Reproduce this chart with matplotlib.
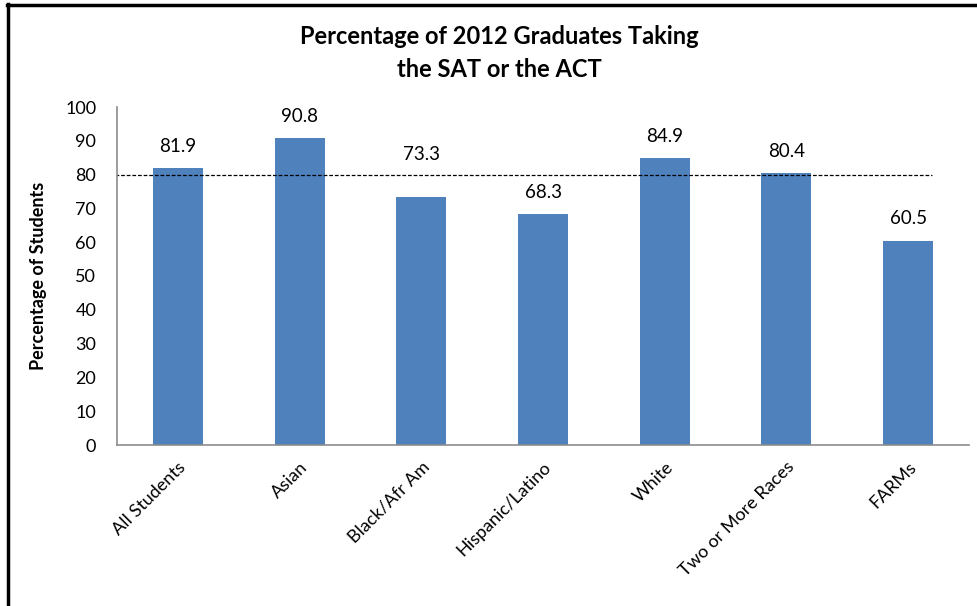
import matplotlib.pyplot as plt
from matplotlib.lines import Line2D

groups = ["All Students", "Asian", "Black/Afr Am", "Hispanic/Latino",
          "White", "Two or More Races", "FARMs"]
pct = [81.9, 90.8, 73.3, 68.3, 84.9, 80.4, 60.5]
target = 80
yticks = list(range(0, 101, 10))

plt.rcParams['font.family'] = ['Lato', 'DejaVu Sans']

fig = plt.figure(figsize=(9.78, 6.06), dpi=100)
ax = fig.add_axes([117 / 978, 1 - 445 / 606, (969 - 117) / 978, (445 - 107) / 606])

xs = range(len(groups))
ax.bar(xs, pct, width=0.41, color="#4F81BD")
for x, v in zip(xs, pct):
    # the Black/Afr Am label sits higher in the original, clear of the dashed line
    lift = 10 if x == 2 else 4
    ax.text(x, v + lift, f"{v:.1f}", ha="center", va="bottom", fontsize=13.5)

ax.plot([-0.52, 6.2], [target, target], color="black", lw=0.9, ls=(0, (3, 1.5)))

ax.set_xlim(-0.5, 6.5)
ax.set_ylim(0, 100)
ax.set_yticks(yticks)
ax.set_xticks(list(xs))
ax.set_xticklabels(groups, rotation=45, ha="right", rotation_mode="anchor", fontsize=13)
ax.tick_params(axis="both", length=0, labelsize=13)
ax.tick_params(axis="y", pad=15)
ax.tick_params(axis="x", pad=10)
for s in ["top", "right"]:
    ax.spines[s].set_visible(False)
for s in ["left", "bottom"]:
    ax.spines[s].set_color("#8c8c8c")
    ax.spines[s].set_linewidth(1.2)

ax.set_ylabel("Percentage of Students", fontsize=13, fontweight="bold", labelpad=13)

fig.text(499 / 978, 1 - 53 / 606, "Percentage of 2012 Graduates Taking\nthe SAT or the ACT",
         ha="center", va="center", fontsize=17, fontweight="bold", linespacing=1.5)

# frame lines on top and left edge
fig.add_artist(Line2D([7 / 978, 1], [1 - 5 / 606, 1 - 5 / 606], color="black", lw=2.5))
fig.add_artist(Line2D([8 / 978, 8 / 978], [0, 1 - 4 / 606], color="black", lw=2.5))

fig.savefig("out.png", dpi=100)
